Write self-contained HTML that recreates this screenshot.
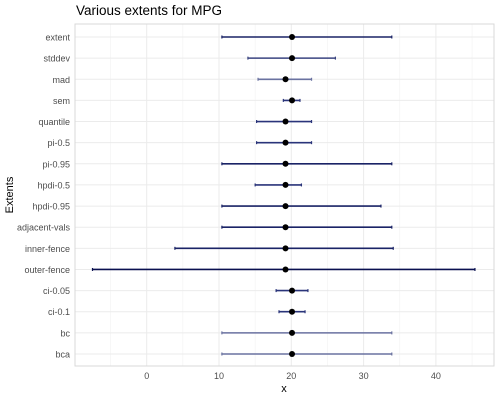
<!DOCTYPE html>
<html><head><meta charset="utf-8"><style>
body{margin:0;background:#fff;font-family:"Liberation Sans",sans-serif}
svg text{font-family:"Liberation Sans",sans-serif}
</style></head><body>
<svg id="c" width="500" height="400"></svg>
<script>
const labels=["extent","stddev","mad","sem","quantile","pi-0.5","pi-0.95","hpdi-0.5","hpdi-0.95","adjacent-vals","inner-fence","outer-fence","ci-0.05","ci-0.1","bc","bca"];
const lows=[10.4,14.0,15.4,18.9,15.2,15.2,10.4,15.0,10.4,10.4,3.9,-7.5,17.9,18.3,10.4,10.4];
const highs=[33.9,26.1,22.8,21.2,22.8,22.8,33.9,21.4,32.4,33.9,34.1,45.4,22.3,21.9,33.9,33.9];
const centers=[20.1,20.1,19.2,20.1,19.2,19.2,19.2,19.2,19.2,19.2,19.2,19.2,20.1,20.1,20.1,20.1];
const lineColors=["#1a2366","#3a4480","#6a72a0","#2a347a","#2a347a","#2a347a","#1a2366","#2a347a","#1a2366","#1a2366","#1a2366","#0a1050","#2a347a","#2a347a","#6a72a0","#6a72a0"];
const xTicks=[0,10,20,30,40];
const NS="http://www.w3.org/2000/svg";
const svg=document.getElementById('c');
const L=75,R=494,T=24,B=366;
const x=v=>146.7+(v)*7.23;
const n=labels.length;
const step=(354-37)/(n-1);
const yy=i=>37+i*step;
function el(t,a){const e=document.createElementNS(NS,t);for(const k in a)e.setAttribute(k,a[k]);svg.appendChild(e);return e;}
for(let v=-5;v<=45;v+=10){if(x(v)>L&&x(v)<R){const g=el('line',{x1:x(v),x2:x(v),y1:T,y2:B,stroke:'#f2f2f2','stroke-width':0.6});

}}
xTicks.forEach(v=>{const g=el('line',{x1:x(v),x2:x(v),y1:T,y2:B,stroke:'#ebebeb','stroke-width':1});


const t=el('text',{x:x(v),y:379,'text-anchor':'middle','font-size':9,fill:'#4d4d4d'});t.textContent=v;

});
labels.forEach((lb,i)=>{const g=el('line',{x1:L,x2:R,y1:yy(i),y2:yy(i),stroke:'#ebebeb','stroke-width':1});


const t=el('text',{x:70,y:yy(i)+3.5,'text-anchor':'end','font-size':9,fill:'#4d4d4d'});t.textContent=lb;

});
const fr=el('rect',{x:L,y:T,width:R-L,height:B-T,fill:'none',stroke:'#d9d9d9','stroke-width':1});


labels.forEach((lb,i)=>{const c=lineColors[i];
const ln=el('line',{x1:x(lows[i]),x2:x(highs[i]),y1:yy(i),y2:yy(i),stroke:c,'stroke-width':1.6});


[lows[i],highs[i]].forEach(v=>{const k=el('line',{x1:x(v),x2:x(v),y1:yy(i)-1.5,y2:yy(i)+1.5,stroke:c,'stroke-width':1.2});

});
const p=el('circle',{cx:x(centers[i]),cy:yy(i),r:3,fill:'#000'});

});
const ti=el('text',{x:76,y:15,'font-size':13.5,fill:'#000'});ti.textContent='Various extents for MPG';


const xl=el('text',{x:284,y:392,'text-anchor':'middle','font-size':11,fill:'#000'});xl.textContent='x';


const yl=el('text',{x:13,y:195,'text-anchor':'middle','font-size':11,fill:'#000',transform:'rotate(-90 13 195)'});yl.textContent='Extents';


</script>
</body></html>
